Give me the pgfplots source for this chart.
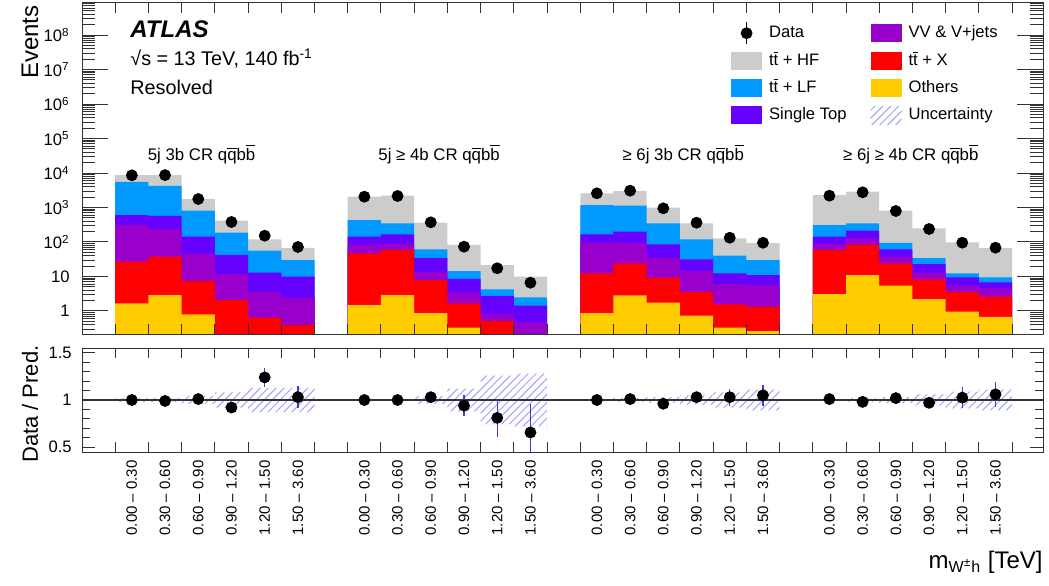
\documentclass[border=0pt]{standalone}
\usepackage{fontspec}
\setmainfont{Liberation Sans}
\usepackage{pgfplots}
\pgfplotsset{compat=1.18}
\usepackage{pgfplotstable}
\usepgfplotslibrary{fillbetween}
\usetikzlibrary{patterns.meta}

\definecolor{cHF}{RGB}{204,204,204}
\definecolor{cLF}{RGB}{0,153,255}
\definecolor{cST}{RGB}{102,0,255}
\definecolor{cVV}{RGB}{153,0,204}
\definecolor{cTX}{RGB}{255,0,0}
\definecolor{cOT}{RGB}{255,204,0}
\definecolor{cUnc}{RGB}{160,160,255}
\definecolor{cErr}{RGB}{60,60,220}

\newcommand\fs[1]{\fontsize{#1}{#1}\selectfont}
\newcommand\ob[1]{\ensuremath{\overline{\mbox{#1}}}}

% stack tops (cumulative), left bin edges; o=Others, t=ttX, v=VV, s=single top, l=tt+LF, h=tt+HF
\pgfplotstableread{
x  o     t     v     s     l     h
1  1.67  27    310   605   5500  8700
2  2.9   37.5  240   575   4270  8700
3  0.80  7.4   45    142   807   1760
4  0.1   2.08  11.8  42    186   414
5  0.1   0.64  3.6   12.9  56    120
6  0.1   0.39  2.4   9.9   30    68
7  1e-3  1e-3  1e-3  1e-3  1e-3  1e-3
8  1.49  47    82    142   434   2056
9  2.9   59    87    167   348   2200
10 0.86  7.9   13.2  34    61    362
11 0.33  1.67  3.4   8.5   14.4  82
12 0.1   0.51  0.82  2.7   4.25  21.5
13 0.05  0.15  0.46  1.43  2.5   9.9
14 1e-3  1e-3  1e-3  1e-3  1e-3  1e-3
15 0.86  12.4  95    167   1180  2580
16 2.85  24    92    199   1130  3000
17 1.74  9.2   35    86    348   990
18 0.73  3.6   14.4  31.5  120   348
19 0.33  1.56  5.9   12.4  40    128
20 0.26  1.34  5.7   11    30    92
21 1e-3  1e-3  1e-3  1e-3  1e-3  1e-3
22 3.1   59    87    142   311   2300
23 11    82    128   213   348   2870
24 5.4   24    37.5  61    95    807
25 2.2   8.3   12.9  23    34    250
26 0.95  3.6   5.3   9.5   12.4  98
27 0.68  2.6   4.55  6.8   9.5   66
28 0.68  2.6   4.55  6.8   9.5   66
}\stack

\pgfplotstableread{
xc   d     r     re
1.5  8570  1.00  0.01
2.5  8700  0.99  0.01
3.5  1763  1.01  0.02
4.5  380   0.92  0.04
5.5  152   1.24  0.10
6.5  71.6  1.03  0.12
8.5  2056  1.00  0.02
9.5  2155  1.00  0.02
10.5 372   1.03  0.04
11.5 73    0.94  0.11
12.5 17.3  0.81  0.20
13.5 6.6   0.655 0.30
15.5 2580  1.00  0.02
16.5 3070  1.01  0.02
17.5 948   0.96  0.03
18.5 362   1.03  0.05
19.5 133   1.03  0.09
20.5 95    1.05  0.11
22.5 2200  1.01  0.02
23.5 2760  0.98  0.02
24.5 792   1.02  0.03
25.5 238   0.97  0.06
26.5 95.5  1.025 0.11
27.5 68.4  1.06  0.13
}\data

\pgfplotstableread{
x  lo    hi
1  0.98  1.02
2  0.98  1.02
3  0.96  1.04
4  0.92  1.08
5  0.87  1.13
6  0.87  1.13
7  1     1
8  0.99  1.01
9  0.99  1.01
10 0.96  1.04
11 0.88  1.12
12 0.74  1.26
13 0.72  1.28
14 1     1
15 0.99  1.01
16 0.98  1.02
17 0.97  1.03
18 0.95  1.05
19 0.92  1.08
20 0.89  1.11
21 1     1
22 0.99  1.01
23 0.98  1.02
24 0.97  1.03
25 0.94  1.06
26 0.91  1.09
27 0.89  1.11
28 0.89  1.11
}\band

\pgfplotsset{
  atlas/.style={
    scale only axis, anchor=south west, width=480.5pt,
    xmin=0, xmax=28.93, axis on top,
    tick align=inside, xtick={1,...,28}, xticklabels={},
    axis line style={black!80, line width=0.5pt},
    every tick/.style={black!80, line width=0.5pt},
    xtick style={/pgfplots/major tick length=5pt},
  },
  boxleg/.style={legend image code/.code={\fill[##1, draw=none] (0pt,-4.5pt) rectangle (15.5pt,4.5pt);}},
}

\begin{document}
\begin{tikzpicture}
\begin{axis}[atlas,
  at={(41pt,125.5pt)}, height=165.5pt,
  ymode=log, ymin=0.215, ymax=8.5e8, log origin y=infty,
  ytick={1,10,1e2,1e3,1e4,1e5,1e6,1e7,1e8},
  yticklabels={1,10,10\textsuperscript{2},10\textsuperscript{3},10\textsuperscript{4},10\textsuperscript{5},10\textsuperscript{6},10\textsuperscript{7},10\textsuperscript{8}},
  minor ytick={0.3,0.4,0.5,0.6,0.7,0.8,0.9,
    2,3,4,5,6,7,8,9,
    2e1,3e1,4e1,5e1,6e1,7e1,8e1,9e1,
    2e2,3e2,4e2,5e2,6e2,7e2,8e2,9e2,
    2e3,3e3,4e3,5e3,6e3,7e3,8e3,9e3,
    2e4,3e4,4e4,5e4,6e4,7e4,8e4,9e4,
    2e5,3e5,4e5,5e5,6e5,7e5,8e5,9e5,
    2e6,3e6,4e6,5e6,6e6,7e6,8e6,9e6,
    2e7,3e7,4e7,5e7,6e7,7e7,8e7,9e7,
    2e8,3e8,4e8,5e8,6e8,7e8,8e8},
  ytick style={/pgfplots/major tick length=13pt, /pgfplots/minor tick length=6.5pt},
  yticklabel style={font=\fs{8.3}, inner sep=0pt, xshift=-6pt},
  legend columns=2,
  legend cell align=left,
  legend style={draw=none, fill=none, at={(0.675,0.945)}, anchor=north west,
    font=\fs{8.3}, inner sep=0pt, row sep=3pt,
    nodes={inner sep=1pt, text height=6.5pt, text depth=2pt},
    /tikz/every odd column/.append style={column sep=2.5pt},
    /tikz/every even column/.append style={column sep=11pt}},
]
\addplot[ybar interval, fill=cHF, draw=none, forget plot] table[x=x, y=h] {\stack};
\addplot[ybar interval, fill=cLF, draw=none, forget plot] table[x=x, y=l] {\stack};
\addplot[ybar interval, fill=cST, draw=none, forget plot] table[x=x, y=s] {\stack};
\addplot[ybar interval, fill=cVV, draw=none, forget plot] table[x=x, y=v] {\stack};
\addplot[ybar interval, fill=cTX, draw=none, forget plot] table[x=x, y=t] {\stack};
\addplot[ybar interval, fill=cOT, draw=none, forget plot] table[x=x, y=o] {\stack};
\addplot[only marks, mark=*, mark size=2.75pt, black, forget plot,
  error bars/.cd, y dir=both, y explicit relative, error mark=none,
  error bar style={black, line width=0.6pt}]
  table[x=xc, y=d, y error=re] {\data};

\addlegendimage{legend image code/.code={\draw[black, line width=0.6pt] (7.75pt,-5.5pt)--(7.75pt,5.5pt); \fill[black] (7.75pt,0pt) circle (2.75pt);}}
\addlegendentry{Data}
\addlegendimage{boxleg, fill=cVV}
\addlegendentry{VV \& V+jets}
\addlegendimage{boxleg, fill=cHF}
\addlegendentry{t\ob{t} + HF}
\addlegendimage{boxleg, fill=cTX}
\addlegendentry{t\ob{t} + X}
\addlegendimage{boxleg, fill=cLF}
\addlegendentry{t\ob{t} + LF}
\addlegendimage{boxleg, fill=cOT}
\addlegendentry{Others}
\addlegendimage{boxleg, fill=cST}
\addlegendentry{Single Top}
\addlegendimage{legend image code/.code={\fill[draw=none, pattern={Lines[angle=45,distance=2.8pt,line width=0.5pt]}, pattern color=cUnc] (0pt,-4.5pt) rectangle (15.5pt,4.5pt);}}
\addlegendentry{Uncertainty}

\node[anchor=base, font=\fs{8.4}] at (axis cs:3.6,2.38e4) {5j 3b CR q\ob{q}b\ob{b}};
\node[anchor=base, font=\fs{8.4}] at (axis cs:10.75,2.38e4) {5j ≥ 4b CR q\ob{q}b\ob{b}};
\node[anchor=base, font=\fs{8.4}] at (axis cs:18.1,2.38e4) {≥ 6j 3b CR q\ob{q}b\ob{b}};
\node[anchor=base, font=\fs{8.4}] at (axis cs:24.95,2.38e4) {≥ 6j ≥ 4b CR q\ob{q}b\ob{b}};
\end{axis}

\begin{axis}[atlas,
  at={(41pt,66.5pt)}, height=52pt,
  ymin=0.447, ymax=1.553,
  ytick={0.5,1,1.5}, yticklabels={0.5,1,1.5},
  minor ytick={0.6,0.7,0.8,0.9,1.1,1.2,1.3,1.4},
  ytick style={/pgfplots/major tick length=6.5pt, /pgfplots/minor tick length=4pt},
  yticklabel style={font=\fs{8.3}, inner sep=0pt, xshift=-5pt},
  extra x ticks={1.5,2.5,3.5,4.5,5.5,6.5,8.5,9.5,10.5,11.5,12.5,13.5,15.5,16.5,17.5,18.5,19.5,20.5,22.5,23.5,24.5,25.5,26.5,27.5},
  extra x tick labels={0.00 – 0.30,0.30 – 0.60,0.60 – 0.90,0.90 – 1.20,1.20 – 1.50,1.50 – 3.60,
    0.00 – 0.30,0.30 – 0.60,0.60 – 0.90,0.90 – 1.20,1.20 – 1.50,1.50 – 3.60,
    0.00 – 0.30,0.30 – 0.60,0.60 – 0.90,0.90 – 1.20,1.20 – 1.50,1.50 – 3.60,
    0.00 – 0.30,0.30 – 0.60,0.60 – 0.90,0.90 – 1.20,1.20 – 1.50,1.50 – 3.60},
  extra x tick style={tick style={draw=none},
    xticklabel style={rotate=90, anchor=east, font=\fs{7.5}, inner sep=4pt}},
]
\addplot[name path=hi, const plot, draw=none, forget plot] table[x=x, y=hi] {\band};
\addplot[name path=lo, const plot, draw=none, forget plot] table[x=x, y=lo] {\band};
\addplot[draw=none, pattern={Lines[angle=45,distance=2.8pt,line width=0.5pt]}, pattern color=cUnc, forget plot] fill between[of=hi and lo];
\addplot[black!80, line width=0.6pt, forget plot] coordinates {(0,1) (28.93,1)};
\addplot[only marks, mark=*, mark size=2.75pt, black, forget plot,
  error bars/.cd, y dir=both, y explicit, error mark=none,
  error bar style={cErr, line width=0.6pt}]
  table[x=xc, y=r, y error=re] {\data};
\end{axis}

\node[anchor=base west, font=\fs{12}\bfseries\itshape, inner sep=0pt] at (65pt,273.5pt) {ATLAS};
\node[anchor=base west, font=\fs{9.9}, inner sep=0pt] at (65pt,259.5pt) {√s = 13 TeV, 140 fb\textsuperscript{-1}};
\node[anchor=base west, font=\fs{9.9}, inner sep=0pt] at (65pt,245pt) {Resolved};
\node[rotate=90, anchor=east, font=\fs{12}, inner sep=0pt] at (15pt,290pt) {Events};
\node[rotate=90, anchor=east, font=\fs{11}, inner sep=0pt] at (15pt,120pt) {Data / Pred.};
\node[anchor=base east, font=\fs{12}, inner sep=0pt] at (521.5pt,8.5pt) {m\textsubscript{W\textsuperscript{±}h} [TeV]};

\pgfresetboundingbox
\path[use as bounding box] (0,0) rectangle (524.5pt,292.5pt);
\end{tikzpicture}
\end{document}
